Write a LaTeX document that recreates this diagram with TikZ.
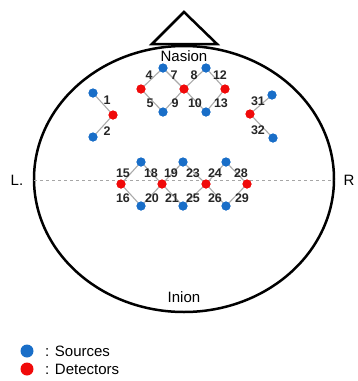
\documentclass[tikz,border=0pt]{standalone}
\usepackage{fontspec}
\setmainfont{Liberation Sans}
\begin{document}
\begin{tikzpicture}[x=1pt,y=-1pt,
  src/.style={circle,fill=srcblue,inner sep=0pt,minimum size=9pt},
  det/.style={circle,fill=detred,inner sep=0pt,minimum size=9pt},
  link/.style={draw=linkgray,line width=1.1pt},
  num/.style={font=\fontsize{12.5}{12.5}\selectfont\bfseries,text=black!85,inner sep=0pt},
  lbl/.style={font=\fontsize{15}{15}\selectfont,inner sep=0pt}]
\definecolor{srcblue}{RGB}{25,110,200}
\definecolor{detred}{RGB}{240,10,10}
\definecolor{linkgray}{RGB}{170,170,170}
\useasboundingbox (0,0) rectangle (357,381);
% head
\draw[line width=2.5pt] (184,179) ellipse [x radius=150, y radius=133];
\coordinate (apex) at (184,12);
\coordinate (bl) at (152,44);
\coordinate (br) at (217,44);
\draw[line width=2.5pt,line join=miter] (bl) -- (apex) -- (br) -- cycle;
% midline
\node[lbl] (L) at (17,180) {L.};
\node[lbl] (R) at (349,180) {R};
\coordinate (ml) at (34,180);
\coordinate (mr) at (334,180);
\draw[gray!70,dashed,line width=0.6pt] (ml) -- (mr);
\node[lbl] (nasion) at (184,56) {Nasion};
\node[lbl] (inion) at (184,297) {Inion};
% top group
\node[src] (s1) at (163,68) {};
\node[src] (s2) at (206,68) {};
\node[det] (d1) at (141,89) {};
\node[det] (d2) at (184,89) {};
\node[det] (d3) at (225,89) {};
\node[src] (s3) at (163,112) {};
\node[src] (s4) at (206,112) {};
% left
\node[src] (s5) at (93,93) {};
\node[det] (d4) at (113,115) {};
\node[src] (s6) at (93,137) {};
% right
\node[src] (s7) at (272,95) {};
\node[det] (d5) at (250,114) {};
\node[src] (s8) at (273,138) {};
% middle
\node[src] (s9) at (141,162) {};
\node[src] (s10) at (183,162) {};
\node[src] (s11) at (226,162) {};
\node[det] (d6) at (121,184) {};
\node[det] (d7) at (162,184) {};
\node[det] (d8) at (206,184) {};
\node[det] (d9) at (247,184) {};
\node[src] (s12) at (141,206) {};
\node[src] (s13) at (183,206) {};
\node[src] (s14) at (226,206) {};
% links
\foreach \a/\b in {s1/d1,s1/d2,s2/d2,s2/d3,d1/s3,s3/d2,d2/s4,s4/d3,
  s5/d4,d4/s6,s7/d5,d5/s8,
  d6/s9,d6/s12,s9/d7,s12/d7,d7/s10,d7/s13,s10/d8,s13/d8,d8/s11,d8/s14,s11/d9,s14/d9}
  \draw[link] (\a) -- (\b);
% dots on top of links
\foreach \n in {s1,s2,s3,s4,s5,s6,s7,s8,s9,s10,s11,s12,s13,s14}
  \fill[srcblue] (\n) circle (4.5);
\foreach \n in {d1,d2,d3,d4,d5,d6,d7,d8,d9}
  \fill[detred] (\n) circle (4.5);
% numbers
\node[num] (n4) at (149,75) {4};
\node[num] (n7) at (174,75) {7};
\node[num] (n8) at (194,75) {8};
\node[num] (n12) at (220,75) {12};
\node[num] (n5) at (150,103) {5};
\node[num] (n9) at (175,103) {9};
\node[num] (n10) at (195,103) {10};
\node[num] (n13) at (221,103) {13};
\node[num] (n1) at (107,100) {1};
\node[num] (n2) at (107,131) {2};
\node[num] (n31) at (258,101) {31};
\node[num] (n32) at (258,130) {32};
\node[num] (n15) at (123,173) {15};
\node[num] (n18) at (151,173) {18};
\node[num] (n19) at (171,173) {19};
\node[num] (n23) at (193,173) {23};
\node[num] (n24) at (215,173) {24};
\node[num] (n28) at (241,173) {28};
\node[num] (n16) at (123,198) {16};
\node[num] (n20) at (152,198) {20};
\node[num] (n21) at (172,198) {21};
\node[num] (n25) at (193,198) {25};
\node[num] (n26) at (215,198) {26};
\node[num] (n29) at (242,198) {29};
% legend
\node[src,minimum size=13pt] (ls) at (27,351) {};
\node[det,minimum size=13pt] (ld) at (27,369) {};
\node[lbl,anchor=west] (lst) at (45,351) {: Sources};
\node[lbl,anchor=west] (ldt) at (45,369) {: Detectors};
\end{tikzpicture}
\end{document}
